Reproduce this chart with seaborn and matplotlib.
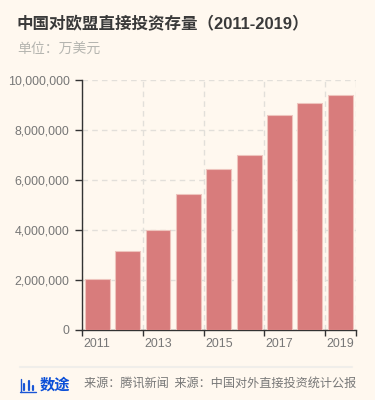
import matplotlib
matplotlib.use('Agg')
import matplotlib.pyplot as plt
import seaborn as sns
import pandas as pd

years = ['2011', '2012', '2013', '2014', '2015', '2016', '2017', '2018', '2019']
stock = [2040000, 3160000, 4010000, 5440000, 6440000, 7000000, 8600000, 9080000, 9400000]
yticks = [0, 2000000, 4000000, 6000000, 8000000, 10000000]
title = '中国对欧盟直接投资存量（2011-2019）'
unit = '单位：万美元'
logo = '数途'
source = '来源：腾讯新闻  来源：中国对外直接投资统计公报'

W, H = 375, 400
BG = '#fff8ef'

sns.set_theme(style='white')
plt.rcParams['font.family'] = ['Noto Sans CJK SC', 'DejaVu Sans']

df = pd.DataFrame({'year': years, 'stock': stock})
fig = plt.figure(figsize=(W / 100, H / 100), dpi=100, facecolor=BG)
ax = fig.add_axes([82 / W, 1 - 330 / H, 273.5 / W, 250 / H], facecolor=BG)

sns.barplot(data=df, x='year', y='stock', order=years, color='#d87c7c', saturation=1,
            width=0.82, edgecolor='#eec4bd', linewidth=0.8, zorder=3, ax=ax)

ax.set_xlim(-0.5, len(years) - 0.5)
ax.set_ylim(0, 10000000)
ax.set_xlabel('')
ax.set_ylabel('')

# ticks sit on the band edges, labels in the band centres
edges = [i - 0.5 for i in range(0, len(years), 2)] + [len(years) - 0.5]
ax.set_xticks(edges)
ax.set_xticklabels([])
ax.set_xticks(range(0, len(years), 2), minor=True)
ax.set_xticklabels(years[::2], minor=True, fontsize=8.9, color='#777777', family='Liberation Sans')
ax.tick_params(axis='x', which='major', length=4, width=1, color='#333333', bottom=True)
ax.tick_params(axis='x', which='minor', length=0, pad=6)

ax.set_yticks(yticks)
ax.set_yticklabels([f'{v:,}' for v in yticks], fontsize=8.9, color='#777777', family='Liberation Sans')
ax.tick_params(axis='y', length=5, width=1, color='#333333', left=True, pad=4)

ax.grid(True, which='major', linestyle=(0, (4, 3)), color='#e2dfda', linewidth=1, zorder=0)
ax.set_axisbelow(True)
sns.despine(ax=ax)
for side in ['left', 'bottom']:
    ax.spines[side].set_color('#333333')
    ax.spines[side].set_linewidth(1)

fig.text(17 / W, 1 - 24 / H, title, fontsize=11.9, fontweight='bold', color='#3a3a3a', va='center',
         family=['Liberation Sans', 'Noto Sans CJK SC'])
fig.text(17 / W, 1 - 49.5 / H, unit, fontsize=10, color='#b5b5b0', va='center')

# footer
fig.add_artist(plt.Line2D([20 / W, 352 / W], [1 - 366.5 / H] * 2, color='#f0eeea', linewidth=1.5))
icon = '#1a56d6'
fig.add_artist(plt.Line2D([20.5 / W, 20.5 / W], [1 - 392 / H, 1 - 379 / H], color=icon, linewidth=1))
fig.add_artist(plt.Line2D([20 / W, 36 / W], [1 - 391.5 / H] * 2, color=icon, linewidth=1))
for px, top in [(24.5, 384), (28.5, 381), (32.5, 386)]:
    fig.add_artist(plt.Line2D([px / W, px / W], [1 - 390 / H, 1 - top / H], color=icon, linewidth=1.6))
fig.text(39.5 / W, 1 - 384.5 / H, logo, fontsize=11, fontweight='bold', color='#0b4fd8', va='center')
fig.text(84 / W, 1 - 383 / H, source, fontsize=8.72, color='#777777', va='center')

fig.savefig('out.png', dpi=100, facecolor=BG)
